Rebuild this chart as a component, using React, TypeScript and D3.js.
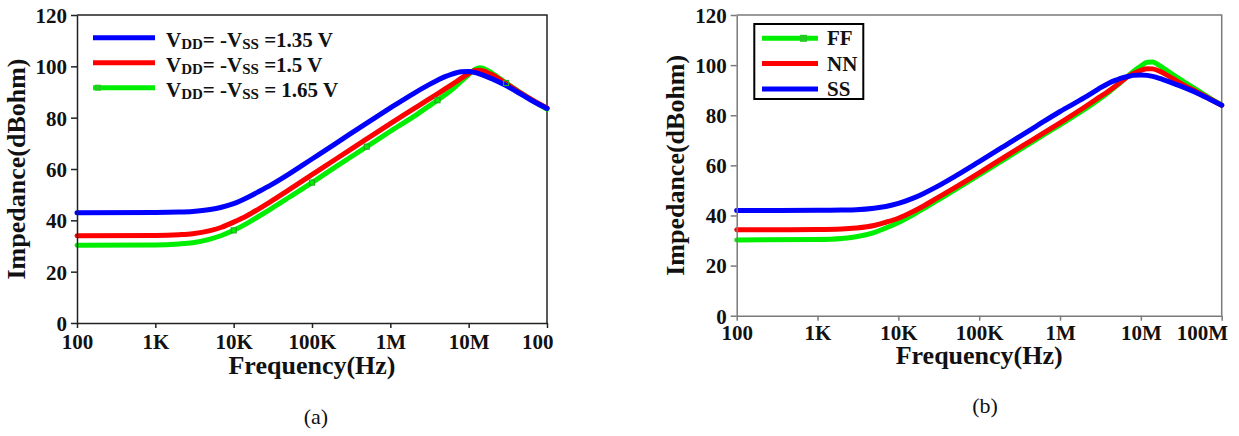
import { useEffect, useRef } from "react";
import * as d3 from "d3";

// frequency points (Hz) shared by all curves
const FREQ = [
  100, 1e3, 2e3, 3e3, 5e3, 7e3, 1e4, 1.5e4, 2e4, 3e4, 5e4, 1e5, 2e5, 5e5, 1e6, 2e6,
  3e6, 4e6, 5e6, 6e6, 7e6, 8e6, 1e7, 1.2e7, 1.4e7, 1.7e7, 2e7, 3e7, 5e7, 7e7, 1e8,
];

// panel (a): supply voltage sweep, dBOhm
const A_135 = [
  43, 43.05, 43.2, 43.45, 44.2, 45.1, 46.5, 48.9, 50.9, 53.8, 57.9, 63.9, 69.9, 77.9, 83.8, 89.5,
  92.6, 94.6, 96, 96.9, 97.5, 97.9, 98, 97.6, 97, 96, 95.1, 92.5, 88.6, 86, 83.6,
];
const A_150 = [
  34, 34.1, 34.4, 34.8, 36, 37.3, 39.3, 41.9, 44.1, 47.4, 51.8, 57.8, 63.8, 71.7, 77.7, 83.5,
  86.9, 89.3, 91.2, 92.8, 94.1, 95.3, 97.2, 98.4, 98.5, 97.7, 96.7, 93.3, 89, 86.3, 83.8,
];
const A_165 = [
  30.3, 30.4, 30.8, 31.3, 32.7, 34.1, 36.1, 38.9, 41.2, 44.5, 48.8, 54.7, 60.8, 68.7, 74.7, 80.5,
  84.2, 86.8, 88.9, 90.8, 92.5, 94.1, 96.8, 98.8, 99.4, 98.6, 97.3, 93.5, 89, 86.2, 83.3,
];

// panel (b): process corners, dBOhm
const B_FF = [
  30.2, 30.4, 30.8, 31.5, 33.2, 35, 37.2, 40.2, 42.5, 45.9, 50.2, 56.2, 62.2, 70.2, 76.2, 82.3,
  86.2, 89.2, 91.7, 93.9, 95.8, 97.4, 99.6, 101.1, 101.2, 99.8, 98.3, 94.5, 90, 87, 84,
];
const B_NN = [
  34.3, 34.4, 34.6, 35, 36, 37.3, 38.9, 41.5, 43.6, 46.9, 51.1, 57, 63.1, 71, 77, 83.2,
  87, 89.7, 92, 94, 95.5, 96.6, 97.9, 98.6, 98.5, 97.6, 96.4, 93, 89.2, 86.7, 84,
];
const B_SS = [
  42, 42.04, 42.15, 42.3, 42.9, 43.6, 44.8, 46.8, 48.6, 51.5, 55.6, 61.5, 67.5, 75.5, 81.5, 87,
  90.5, 92.8, 94.1, 95, 95.5, 95.9, 96.1, 95.9, 95.5, 94.7, 93.9, 91.8, 88.8, 86.5, 84,
];

const X_TICKS = [100, 1e3, 1e4, 1e5, 1e6, 1e7, 1e8];
const X_LABELS_A = ["100", "1K", "10K", "100K", "1M", "10M", "100"];
const X_LABELS_B = ["100", "1K", "10K", "100K", "1M", "10M", "100M"];
const Y_TICKS = [0, 20, 40, 60, 80, 100, 120];

const GREEN = "#00ee00";
const RED = "#ff0000";
const BLUE = "#0000ff";
const FONT = "'Liberation Serif', 'Times New Roman', serif";

export default function App() {
  const ref = useRef<SVGSVGElement>(null);

  useEffect(() => {
    const svg = d3.select(ref.current);
    svg.selectAll("*").remove();

    const drawPanel = (p: any) => {
      const x = d3.scaleLog().domain([100, 1e8]).range([p.left, p.right]);
      const y = d3.scaleLinear().domain([0, 120]).range([p.bottom, p.top]);
      const g = svg.append("g")
        .attr("font-family", FONT)
        .attr("font-weight", "bold")
        .attr("fill", "#111");

      // top + right frame
      g.append("path")
        .attr("d", `M${p.left},${p.top}H${p.right}V${p.bottom}`)
        .attr("fill", "none")
        .attr("stroke", p.frame)
        .attr("stroke-width", 1.5);

      const line = d3.line<number>()
        .x((_, i) => x(FREQ[i]))
        .y(d => y(d))
        .curve(d3.curveMonotoneX);

      p.series.forEach((s: any) => {
        g.append("path")
          .attr("d", line(s.values))
          .attr("fill", "none")
          .attr("stroke", s.color)
          .attr("stroke-width", 5)
          .attr("stroke-linejoin", "round")
          .attr("stroke-linecap", "round");
      });

      // little symbol markers on the green trace
      if (p.markers) {
        const green = p.series.find((s: any) => s.color === GREEN);
        g.selectAll(".mk")
          .data(p.markers)
          .join("rect")
          .attr("x", (i: number) => x(FREQ[i]) - 2.5)
          .attr("y", (i: number) => y(green.values[i]) - 2.5)
          .attr("width", 5)
          .attr("height", 5)
          .attr("fill", "none")
          .attr("stroke", "#22aa22")
          .attr("stroke-width", 1.2);
      }

      const xa = g.append("g")
        .attr("transform", `translate(0,${p.bottom})`)
        .call(d3.axisBottom(x).tickValues(X_TICKS)
          .tickFormat((_, i) => p.xLabels[i]).tickSize(5).tickSizeOuter(0));
      const ya = g.append("g")
        .attr("transform", `translate(${p.left},0)`)
        .call(d3.axisLeft(y).tickValues(Y_TICKS).tickSize(6).tickSizeOuter(0));

      [xa, ya].forEach(a => {
        a.attr("font-family", FONT).attr("font-size", 21).attr("font-weight", "bold");
        a.select(".domain").attr("stroke", p.frame).attr("stroke-width", 1.5);
        a.selectAll(".tick line").attr("stroke", p.frame).attr("stroke-width", 1.5);
        a.selectAll(".tick text").attr("fill", "#111");
      });
      xa.selectAll(".tick text").attr("y", p.xLabelY).attr("dy", null);
      // last label is pulled in so it stays inside the figure
      xa.selectAll(".tick text")
        .filter((_, i) => i === X_TICKS.length - 1)
        .attr("text-anchor", "end")
        .attr("x", 6);
      ya.selectAll(".tick text").attr("x", -10).attr("dy", "0.35em");

      g.append("text")
        .attr("x", (p.left + p.right) / 2)
        .attr("y", p.xTitleY)
        .attr("text-anchor", "middle")
        .attr("font-size", 26)
        .text("Frequency(Hz)");

      g.append("text")
        .attr("transform", `translate(${p.yTitleX},${(p.top + p.bottom) / 2}) rotate(-90)`)
        .attr("text-anchor", "middle")
        .attr("font-size", 26)
        .text("Impedance(dBohm)");

      g.append("text")
        .attr("x", p.capX)
        .attr("y", p.capY)
        .attr("text-anchor", "middle")
        .attr("font-size", 22)
        .attr("font-weight", "normal")
        .text(p.caption);

      return g;
    };

    // ---- panel (a)
    const ga = drawPanel({
      left: 77, right: 547, top: 15, bottom: 323, frame: "#222",
      xLabels: X_LABELS_A, xLabelY: 26, xTitleY: 374, yTitleX: 25,
      capX: 316, capY: 424, caption: "(a)",
      series: [
        { color: GREEN, values: A_165 },
        { color: RED, values: A_150 },
        { color: BLUE, values: A_135 },
      ],
      markers: [6, 11, 13, 17, 27],
    });

    const legA = [
      { color: BLUE, v: "=1.35 V" },
      { color: RED, v: "=1.5 V" },
      { color: GREEN, v: "= 1.65 V" },
    ];
    legA.forEach((d, i) => {
      const yy = 37.7 + i * 25;
      ga.append("line")
        .attr("x1", 93).attr("x2", 155).attr("y1", yy).attr("y2", yy)
        .attr("stroke", d.color).attr("stroke-width", 5);
      const t = ga.append("text").attr("x", 166).attr("y", yy + 9.5).attr("font-size", 21);
      t.append("tspan").text("V");
      t.append("tspan").attr("font-size", 15).attr("dy", 2).text("DD");
      t.append("tspan").attr("dy", -2).text("= -V");
      t.append("tspan").attr("font-size", 15).attr("dy", 2).text("SS");
      t.append("tspan").attr("dy", -2).text(" " + d.v);
    });
    ga.append("rect")
      .attr("x", 95).attr("y", 87.7 - 3).attr("width", 6).attr("height", 6)
      .attr("fill", "#22cc22");

    // ---- panel (b)
    const gb = drawPanel({
      left: 736.7, right: 1221.7, top: 15, bottom: 315.7, frame: "#7a7a7a",
      xLabels: X_LABELS_B, xLabelY: 24.5, xTitleY: 364, yTitleX: 684,
      capX: 985, capY: 413, caption: "(b)",
      series: [
        { color: GREEN, values: B_FF },
        { color: RED, values: B_NN },
        { color: BLUE, values: B_SS },
      ],
    });

    gb.append("rect")
      .attr("x", 754.3).attr("y", 24).attr("width", 109).attr("height", 75)
      .attr("fill", "#fff").attr("stroke", "#000").attr("stroke-width", 2);
    const legB = [
      { color: GREEN, label: "FF" },
      { color: RED, label: "NN" },
      { color: BLUE, label: "SS" },
    ];
    legB.forEach((d, i) => {
      const yy = 38.3 + i * 25.3;
      gb.append("line")
        .attr("x1", 762).attr("x2", 818).attr("y1", yy).attr("y2", yy)
        .attr("stroke", d.color).attr("stroke-width", 5);
      gb.append("text").attr("x", 827).attr("y", yy + 7).attr("font-size", 21).text(d.label);
    });
    gb.append("rect")
      .attr("x", 800).attr("y", 38.3 - 3.5).attr("width", 7).attr("height", 7)
      .attr("fill", "#22cc22");
  }, []);

  return (
    <svg
      ref={ref}
      width={1239}
      height={436}
      style={{ position: "absolute", left: 0, top: 0, background: "#fff" }}
    />
  );
}
